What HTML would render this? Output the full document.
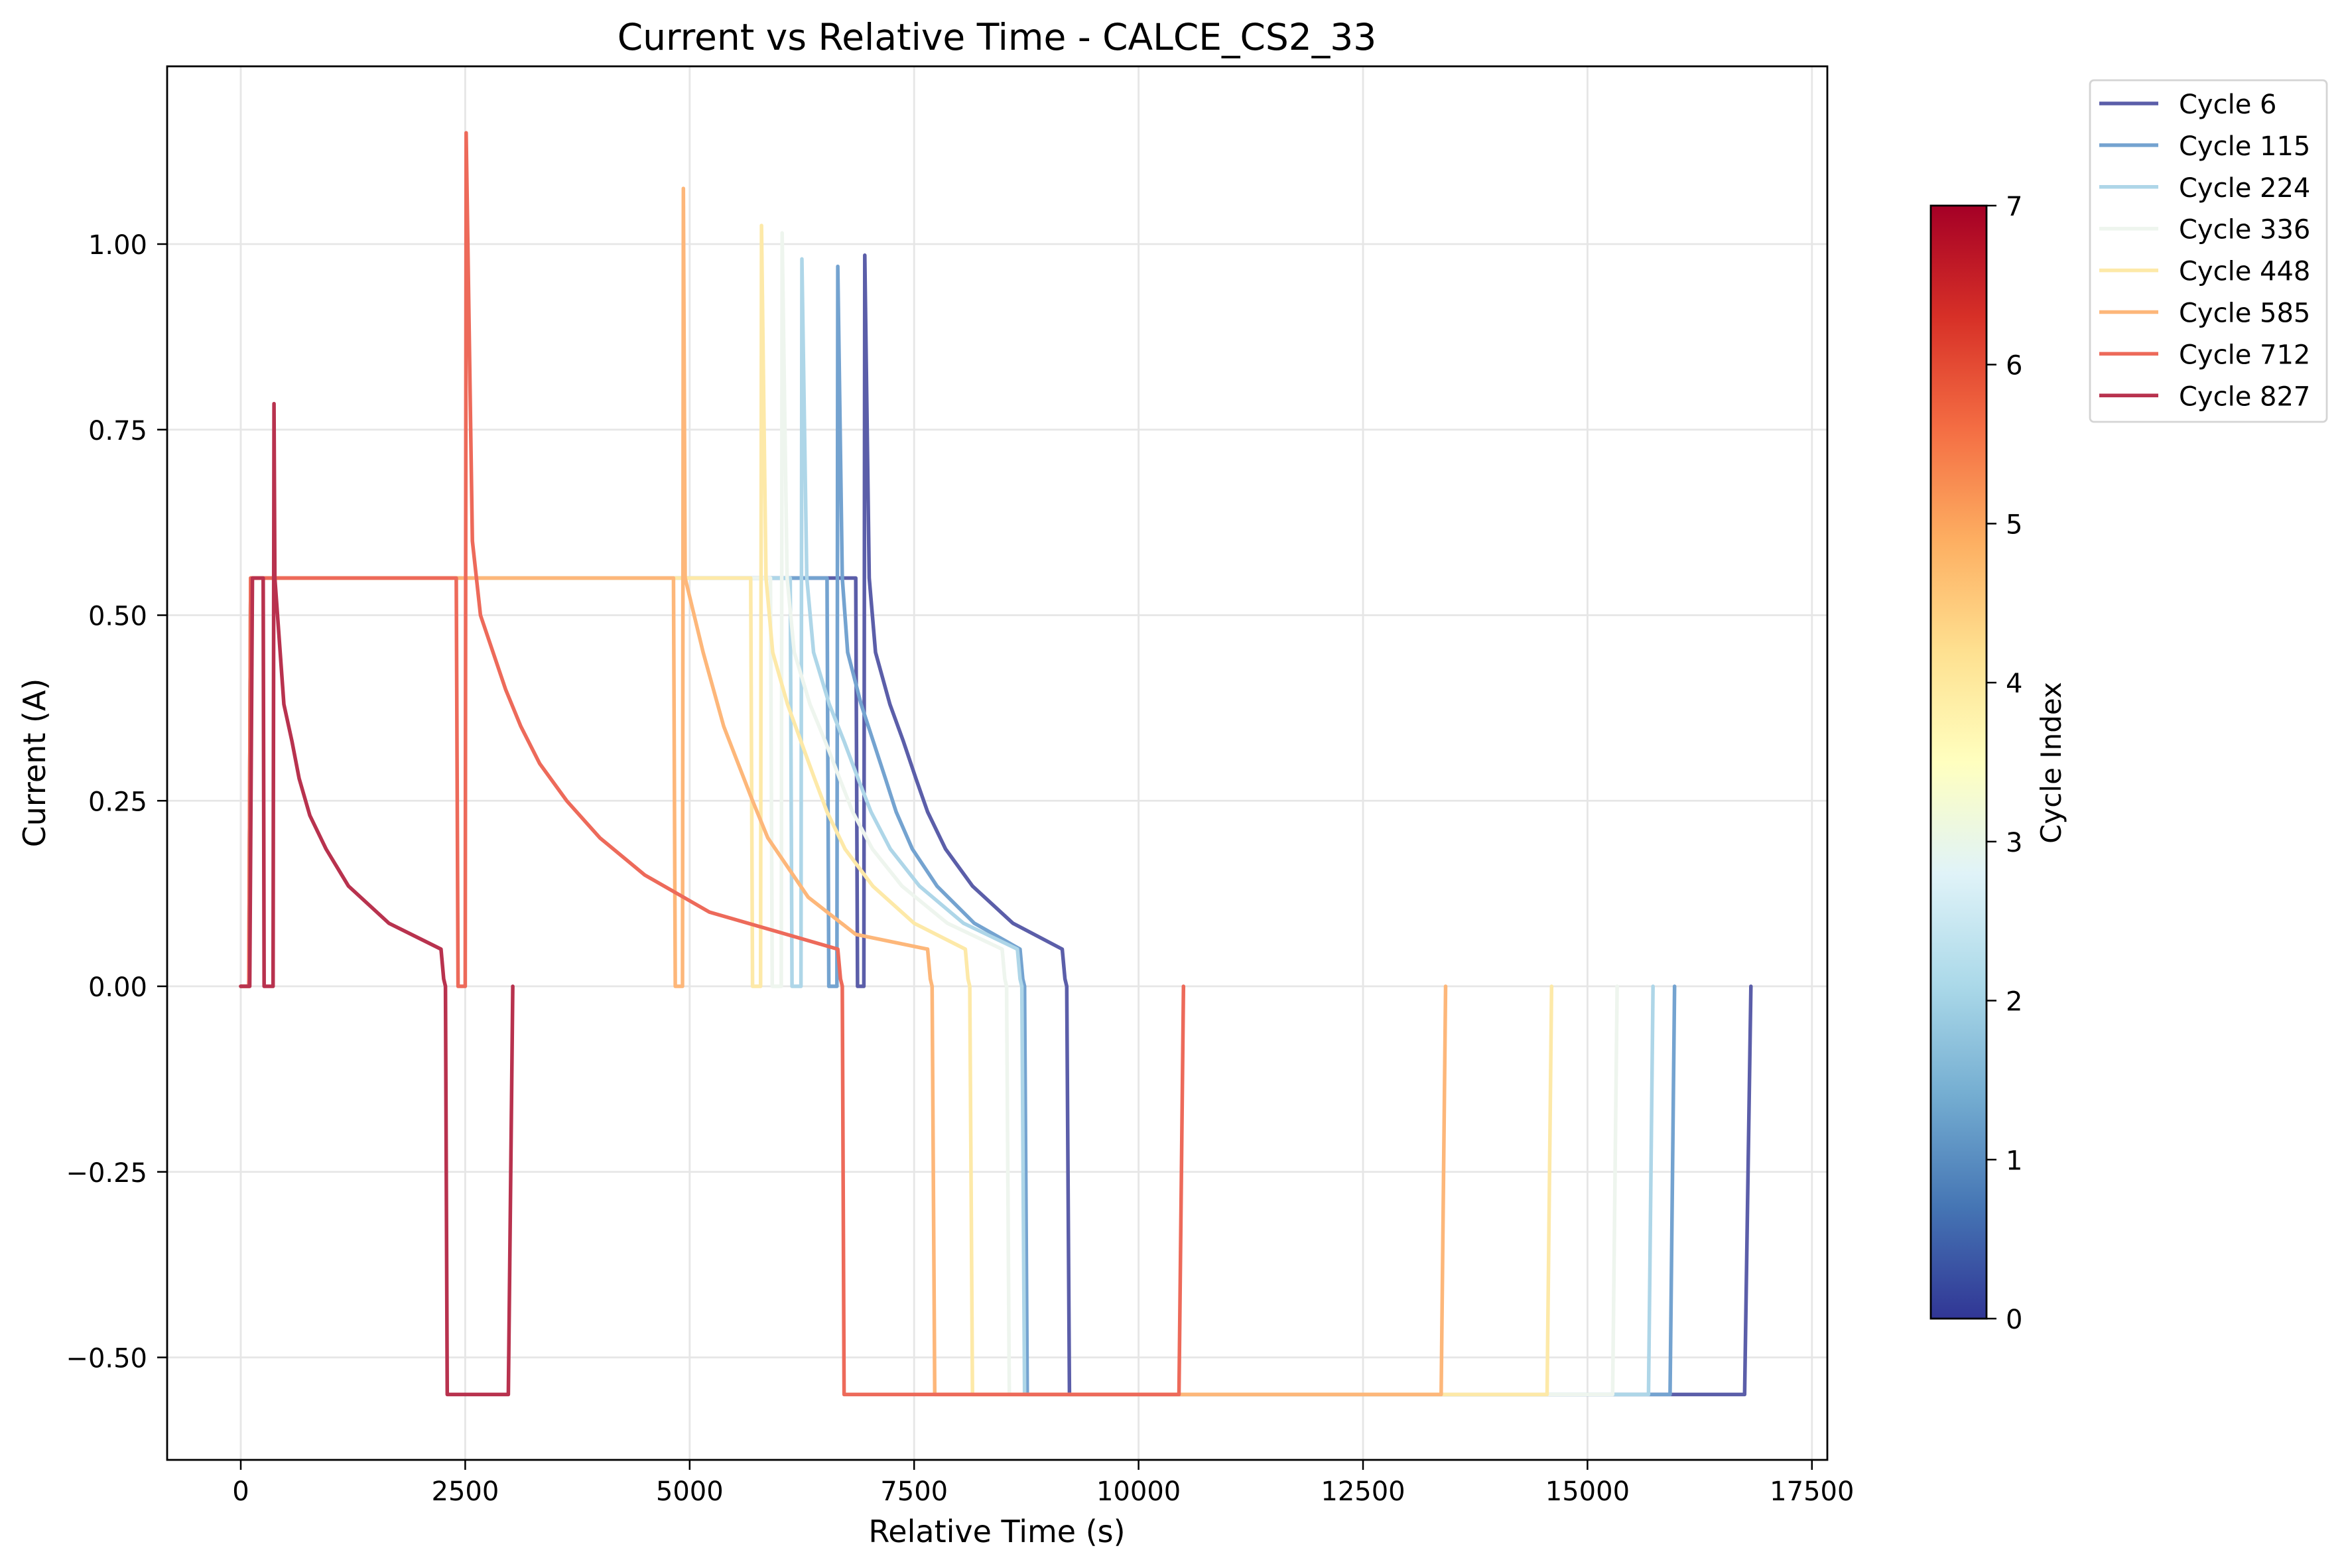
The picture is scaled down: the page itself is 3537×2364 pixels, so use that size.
<!DOCTYPE html>
<html><head><meta charset="utf-8"><style>
html,body{margin:0;padding:0;background:#fff;}
svg{display:block;font-family:"DejaVu Sans","Liberation Sans",sans-serif;}
</style></head><body>
<svg id="chart" width="3537" height="2364" viewBox="0 0 3537 2364" xmlns="http://www.w3.org/2000/svg">
<defs>
<linearGradient id="cmap" x1="0" y1="1" x2="0" y2="0">
<stop offset="0" stop-color="#313695"/><stop offset="0.1" stop-color="#4575b4"/><stop offset="0.2" stop-color="#74add1"/><stop offset="0.3" stop-color="#abd9e9"/><stop offset="0.4" stop-color="#e0f3f8"/><stop offset="0.5" stop-color="#ffffbf"/><stop offset="0.6" stop-color="#fee090"/><stop offset="0.7" stop-color="#fdae61"/><stop offset="0.8" stop-color="#f46d43"/><stop offset="0.9" stop-color="#d73027"/><stop offset="1" stop-color="#a50026"/>
</linearGradient>
<clipPath id="plotclip"><rect x="252" y="100" width="2503" height="2101"/></clipPath>
</defs>
<rect width="3537" height="2364" fill="#fff"/>
<g id="grid"></g>
<g id="series" clip-path="url(#plotclip)"></g>
<rect x="252" y="100" width="2503" height="2101" fill="none" stroke="#000" stroke-width="2.8"/>
<g id="axes"></g>
<text x="1503" y="75" text-anchor="middle" font-size="55">Current vs Relative Time - CALCE_CS2_33</text>
<text x="1503" y="2325" text-anchor="middle" font-size="46">Relative Time (s)</text>
<text transform="translate(68,1150) rotate(-90)" text-anchor="middle" font-size="46">Current (A)</text>
<g>
<rect x="2911" y="310" width="84" height="1678" fill="url(#cmap)" stroke="#000" stroke-width="2.8"/>
<g id="cbticks"></g>
<text transform="translate(3107,1150) rotate(-90)" text-anchor="middle" font-size="42">Cycle Index</text>
</g>
<g id="legend">
<rect x="3151" y="121" width="357" height="515" rx="6" fill="#fff" stroke="#d4d4d4" stroke-width="2.8"/>
</g>
</svg>
<script>
const cycleNames=["Cycle 6","Cycle 115","Cycle 224","Cycle 336","Cycle 448","Cycle 585","Cycle 712","Cycle 827"];
const cycleColors=["#5b5ea9","#74a3d0","#aed6e8","#eef5ee","#fde9a8","#fdb77a","#ed6a5a","#b8324e"];
const xTicks=[0,2500,5000,7500,10000,12500,15000,17500];
const yTicks=[-0.5,-0.25,0,0.25,0.5,0.75,1.0];
const yTickLabels=["\u22120.50","\u22120.25","0.00","0.25","0.50","0.75","1.00"];
const cbTicks=[0,1,2,3,4,5,6,7];
const t827=[0,100,130,250,260,360,370,380,480,570,650,770,950,1200,1650,2230,2260,2280,2300,2980,3030];
const i827=[0,0,0.55,0.55,0,0,0.785,0.55,0.38,0.33,0.28,0.23,0.185,0.135,0.085,0.05,0.01,0,-0.55,-0.55,0];
const t712=[0,90,110,2400,2420,2500,2510,2580,2670,2950,3120,3330,3630,4000,4500,5220,6650,6680,6700,6720,10450,10500];
const i712=[0,0,0.55,0.55,0,0,1.15,0.6,0.5,0.4,0.35,0.3,0.25,0.2,0.15,0.1,0.05,0.01,0,-0.55,-0.55,0];
const t585=[0,90,110,4820,4840,4920,4930,4950,5150,5380,5700,5870,6320,6850,7650,7680,7700,7730,13370,13420];
const i585=[0,0,0.55,0.55,0,0,1.075,0.55,0.45,0.35,0.25,0.2,0.12,0.07,0.05,0.01,0,-0.55,-0.55,0];
const t448=[0,90,110,5680,5700,5790,5800,5850,5925,6090,6240,6390,6530,6730,7040,7500,8070,8100,8120,8150,14550,14600];
const i448=[0,0,0.55,0.55,0,0,1.025,0.55,0.45,0.38,0.33,0.28,0.235,0.185,0.135,0.085,0.05,0.01,0,-0.55,-0.55,0];
const t336=[0,90,110,5900,5920,6020,6030,6085,6165,6340,6510,6670,6815,7035,7365,7870,8480,8510,8530,8560,15280,15330];
const i336=[0,0,0.55,0.55,0,0,1.015,0.55,0.45,0.38,0.33,0.28,0.235,0.185,0.135,0.085,0.05,0.01,0,-0.55,-0.55,0];
const t224=[0,90,110,6120,6140,6240,6250,6305,6380,6555,6720,6875,7020,7235,7560,8050,8650,8680,8700,8730,15680,15730];
const i224=[0,0,0.55,0.55,0,0,0.98,0.55,0.45,0.38,0.33,0.28,0.235,0.185,0.135,0.085,0.05,0.01,0,-0.55,-0.55,0];
const t115=[0,90,110,6530,6550,6640,6650,6700,6760,6910,7045,7180,7300,7480,7755,8170,8680,8710,8730,8760,15920,15970];
const i115=[0,0,0.55,0.55,0,0,0.97,0.55,0.45,0.38,0.33,0.28,0.235,0.185,0.135,0.085,0.05,0.01,0,-0.55,-0.55,0];
const t6=[0,90,110,6850,6870,6940,6950,7000,7070,7230,7380,7520,7650,7850,8150,8600,9150,9180,9200,9230,16750,16820];
const i6=[0,0,0.55,0.55,0,0,0.985,0.55,0.45,0.38,0.33,0.28,0.235,0.185,0.135,0.085,0.05,0.01,0,-0.55,-0.55,0];
const seriesT=[t6,t115,t224,t336,t448,t585,t712,t827];
const seriesI=[i6,i115,i224,i336,i448,i585,i712,i827];

const NS="http://www.w3.org/2000/svg";
const X0=363, XS=0.13536, Y0=1487, YS=1119;
function xs(t){return X0+t*XS;}
function ys(v){return Y0-v*YS;}
function cbY(v){return 1988-v*(1678/7);}
function mk(tag,attrs,parent){const e=document.createElementNS(NS,tag);for(const k in attrs)e.setAttribute(k,attrs[k]);parent.appendChild(e);return e;}
const grid=document.getElementById('grid'),axes=document.getElementById('axes'),ser=document.getElementById('series'),cbt=document.getElementById('cbticks'),leg=document.getElementById('legend');
xTicks.forEach(t=>{
  const g=mk('line',{x1:xs(t),x2:xs(t),y1:100,y2:2201,stroke:'#e6e6e6','stroke-width':2.8},grid);
  
  
  const tk=mk('line',{x1:xs(t),x2:xs(t),y1:2201,y2:2216,stroke:'#000','stroke-width':2.5},axes);
  
  
  const lb=mk('text',{x:xs(t),y:2262,'text-anchor':'middle','font-size':40},axes);
  lb.textContent=String(t);
  
  
});
yTicks.forEach((v,i)=>{
  const g=mk('line',{x1:252,x2:2755,y1:ys(v),y2:ys(v),stroke:'#e6e6e6','stroke-width':2.8},grid);
  
  
  const tk=mk('line',{x1:237,x2:252,y1:ys(v),y2:ys(v),stroke:'#000','stroke-width':2.5},axes);
  
  
  const lb=mk('text',{x:222,y:ys(v)+15,'text-anchor':'end','font-size':40},axes);
  lb.textContent=yTickLabels[i];
  
  
});
seriesT.forEach((ts,k)=>{
  const d=ts.map((t,j)=>(j?'L':'M')+xs(t).toFixed(1)+','+ys(seriesI[k][j]).toFixed(1)).join(' ');
  const p=mk('path',{d:d,fill:'none',stroke:cycleColors[k],'stroke-width':5.5,'stroke-linejoin':'round','stroke-linecap':'round'},ser);
  
  
  const ly=156+k*62.9;
  const ll=mk('line',{x1:3165,x2:3254,y1:ly,y2:ly,stroke:cycleColors[k],'stroke-width':5.5},leg);
  
  
  const lt=mk('text',{x:3285,y:ly+15,'font-size':40},leg);
  lt.textContent=cycleNames[k];
  
  
});
cbTicks.forEach(v=>{
  const tk=mk('line',{x1:2995,x2:3010,y1:cbY(v),y2:cbY(v),stroke:'#000','stroke-width':2.5},cbt);
  
  
  const lb=mk('text',{x:3024,y:cbY(v)+15,'font-size':40},cbt);
  lb.textContent=String(v);
  
  
});
</script>
</body></html>
